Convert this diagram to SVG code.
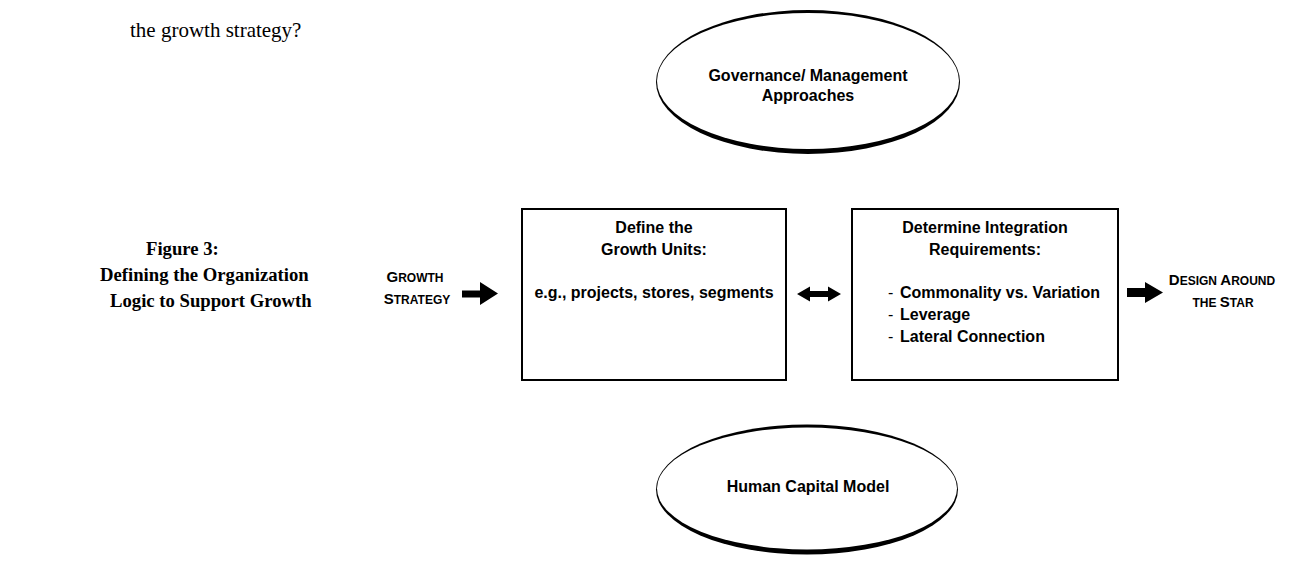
<svg xmlns="http://www.w3.org/2000/svg" width="1295" height="564" viewBox="0 0 1295 564">
<style>
.t{font-family:"Liberation Sans",Arial,sans-serif;font-size:16px;font-weight:bold;fill:#000}
.c{text-anchor:middle}
.d{font-weight:normal}
.sc{font-family:"Liberation Sans",Arial,sans-serif;font-weight:bold;fill:#000;text-anchor:middle;font-size:12px}
.big{font-size:15px}
.tm{font-family:"Liberation Serif","Times New Roman",serif;fill:#000}
.box{fill:#fff;stroke:#000;stroke-width:2}
.ar{fill:#000}
</style>
<rect width="1295" height="564" fill="#fff"/>
<text class="tm" x="130" y="37" font-size="21">the growth strategy?</text>
<g id="title" class="tm" font-weight="bold" font-size="18.7">
<text x="146" y="255">Figure 3:</text>
<text x="100" y="281">Defining the Organization</text>
<text x="110" y="307">Logic to Support Growth</text>
</g>
<g id="governance">
<ellipse cx="808" cy="82" rx="152" ry="72" fill="#000"/>
<ellipse cx="808" cy="81" rx="151" ry="68" fill="#fff"/>
<text class="t c" x="808" y="81">Governance/ Management</text>
<text class="t c" x="808" y="101">Approaches</text>
</g>
<g id="growth-strategy">
<text class="sc" x="415" y="282"><tspan class="big">G</tspan>ROWTH</text>
<text class="sc" x="417" y="304"><tspan class="big">S</tspan>TRATEGY</text>
</g>
<g id="growth-units">
<rect class="box" x="522" y="209" width="264" height="171"/>
<text class="t c" x="654" y="233">Define the</text>
<text class="t c" x="654" y="255">Growth Units:</text>
<text class="t c" x="654" y="298">e.g., projects, stores, segments</text>
</g>
<g id="integration">
<rect class="box" x="852" y="209" width="266" height="171"/>
<text class="t c" x="985" y="233">Determine Integration</text>
<text class="t c" x="985" y="255">Requirements:</text>
<text class="t d" x="888" y="298">-</text><text class="t" x="900" y="298">Commonality vs. Variation</text>
<text class="t d" x="888" y="320">-</text><text class="t" x="900" y="320">Leverage</text>
<text class="t d" x="888" y="342">-</text><text class="t" x="900" y="342">Lateral Connection</text>
</g>
<g id="design-star">
<text class="sc" x="1222" y="285"><tspan class="big">D</tspan>ESIGN <tspan class="big">A</tspan>ROUND</text>
<text class="sc" x="1223" y="307">THE <tspan class="big">S</tspan>TAR</text>
</g>
<g id="human-capital">
<ellipse cx="807" cy="489.5" rx="151" ry="65" fill="#000"/>
<ellipse cx="807" cy="488.5" rx="150" ry="61" fill="#fff"/>
<text class="t c" x="808" y="492">Human Capital Model</text>
</g>
<g id="connectors">
<path class="ar" d="M462,290.5 H480 V282 L498,293.5 L480,305 V297.5 H462 Z"/>
<path class="ar" d="M797,294 L810,286.5 V291 H828 V286.5 L841,294 L828,301.5 V297 H810 V301.5 Z"/>
<path class="ar" d="M1127,288 H1145 V282 L1163,292.5 L1145,303 V297 H1127 Z"/>
</g>
</svg>
